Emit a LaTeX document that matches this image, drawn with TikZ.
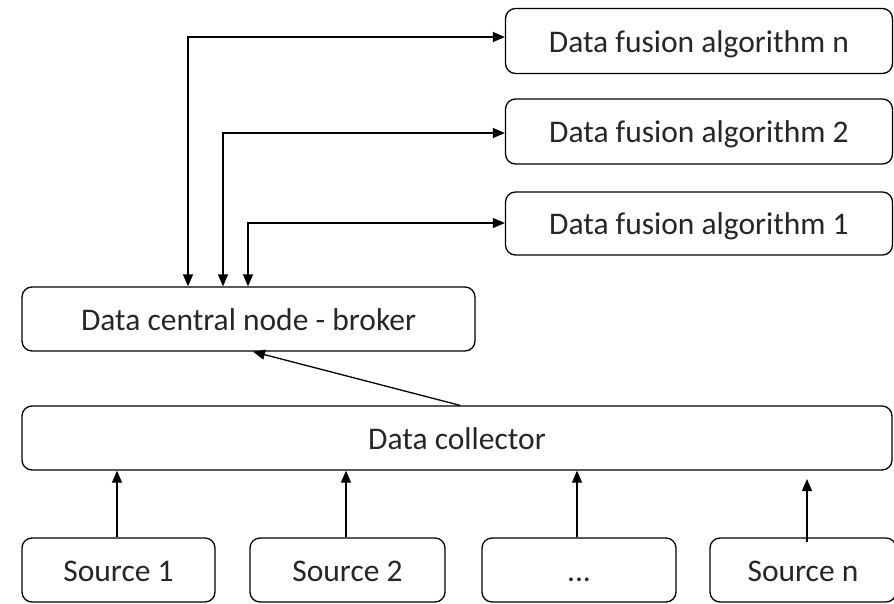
\documentclass[tikz,border=0pt]{standalone}
\usepackage{fontspec}
\setmainfont{Carlito}
\usetikzlibrary{arrows.meta}
\begin{document}
\begin{tikzpicture}[x=1pt,y=-1pt,
  box/.style={draw,line width=1.3pt,rounded corners=10pt,inner sep=0pt,
    font=\fontsize{31.5}{36}\selectfont,text=black!85,text height=28pt,text depth=6pt},
  conn/.style={line width=1.3pt,-{Triangle[length=12pt,width=10pt]}},
  biconn/.style={line width=1.3pt,{Triangle[length=12pt,width=10pt]}-{Triangle[length=12pt,width=10pt]}}]
\useasboundingbox (0,0) rectangle (894,603);
\node[box,minimum width=387pt,minimum height=65pt] (fn) at (699,41) {Data fusion algorithm n};
\node[box,minimum width=387pt,minimum height=65pt] (f2) at (699,131.5) {Data fusion algorithm 2};
\node[box,minimum width=387pt,minimum height=63pt] (f1) at (699,223.5) {Data fusion algorithm 1};
\node[box,minimum width=453pt,minimum height=64pt] (broker) at (248.5,319) {Data central node - broker};
\node[box,minimum width=870pt,minimum height=64pt] (coll) at (457,438) {Data collector};
\node[box,minimum width=193pt,minimum height=64pt] (s1) at (118.5,570) {Source 1};
\node[box,minimum width=195pt,minimum height=64pt] (s2) at (347.5,570) {Source 2};
\node[box,minimum width=194pt,minimum height=64pt] (s3) at (579,570) {...};
\node[box,minimum width=186pt,minimum height=64pt] (sn) at (803,570) {Source n};
% fusion connectors
\coordinate (cn) at (188,37);
\coordinate (c2) at (223,133);
\coordinate (c1) at (248,223);
\draw[biconn] (cn |- broker.north) |- (fn.west |- cn);
\draw[biconn] (c2 |- broker.north) |- (f2.west |- c2);
\draw[biconn] (c1 |- broker.north) |- (f1.west |- c1);
% collector to broker
\coordinate (cb) at (460,0);
\coordinate (bb) at (253,0);
\draw[conn] (cb |- coll.north) -- (bb |- broker.south);
% sources to collector
\coordinate (x1) at (117,0);
\coordinate (x2) at (346,0);
\coordinate (x3) at (577,0);
\coordinate (x4) at (807,542);
\coordinate (t4) at (807,479);
\draw[conn] (x1 |- s1.north) -- (x1 |- coll.south);
\draw[conn] (x2 |- s2.north) -- (x2 |- coll.south);
\draw[conn] (x3 |- s3.north) -- (x3 |- coll.south);
\draw[conn] (x4) -- (t4);
\end{tikzpicture}
\end{document}
